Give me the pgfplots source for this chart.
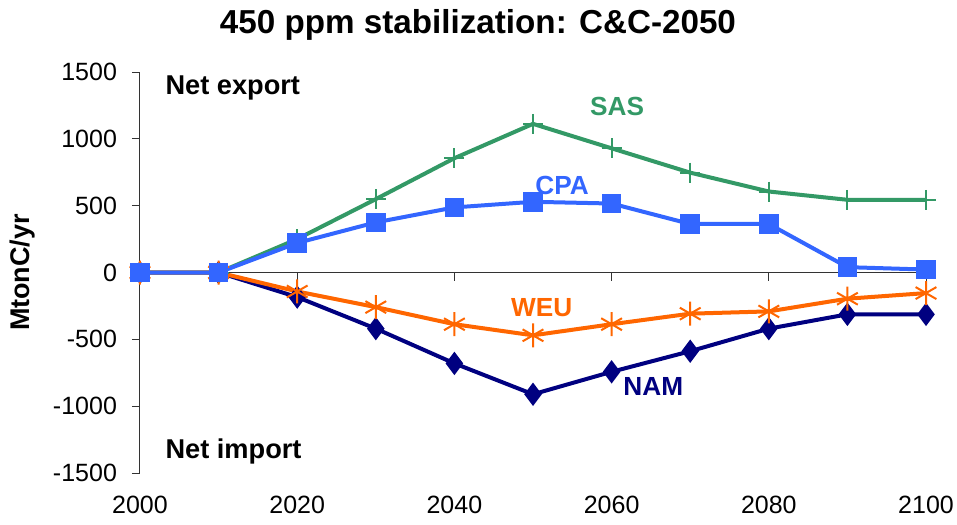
\documentclass[border=0pt]{standalone}
\usepackage{fontspec}
\setmainfont{Liberation Sans}
\usepackage{pgfplots}
\pgfplotsset{compat=1.18}

\definecolor{sasgreen}{RGB}{51,153,102}
\definecolor{cpablue}{RGB}{51,102,255}
\definecolor{weuorange}{RGB}{255,102,0}
\definecolor{namnavy}{RGB}{0,0,128}

\begin{document}
\begin{tikzpicture}
\begin{axis}[
    scale only axis,
    width=393pt,
    height=200.5pt,
    xmin=2000, xmax=2100,
    ymin=-1500, ymax=1500,
    xtick={2000,2020,...,2100},
    ytick={-1500,-1000,...,1500},
    axis x line*=middle,
    axis y line*=left,
    hide obscured x ticks=false,
    axis line style={black!80, line width=0.5pt, -},
    major tick style={black!80, line width=0.5pt},
    tick align=outside,
    major tick length=4pt,
    xticklabel style={yshift=-104pt},
    yticklabel style={xshift=-4pt},
    /pgf/number format/assume math mode=true,
    /pgf/number format/1000 sep={},
    tick label style={font=\fontsize{12.5}{14}\selectfont},
    ylabel={\bfseries MtonC/yr},
    every axis y label/.style={at={(axis description cs:-0.150,0.5)}, anchor=center, rotate=90,
        font=\fontsize{13.5}{16}\selectfont},
    title={\bfseries 450 ppm stabilization: C\&C-2050},
    every axis title/.style={at={(axis description cs:0.43,1)}, anchor=base, yshift=19.5pt,
        font=\fontsize{16.6}{19}\selectfont},
    clip=false,
    every axis plot/.append style={line width=2pt},
]
\addplot[namnavy, mark=diamond*, mark size=4.2pt] coordinates {
    (2000,0) (2010,0) (2020,-184) (2030,-420) (2040,-680) (2050,-911)
    (2060,-743) (2070,-589) (2080,-420) (2090,-313) (2100,-313)
};
\addplot[sasgreen, mark=+, mark size=5pt, mark options={line width=1pt}] coordinates {
    (2000,0) (2010,0) (2020,250) (2030,549) (2040,855) (2050,1112)
    (2060,929) (2070,747) (2080,606) (2090,544) (2100,544)
};
\addplot[weuorange, mark=asterisk, mark size=6pt, mark options={line width=1pt}] coordinates {
    (2000,0) (2010,0) (2020,-142) (2030,-259) (2040,-387) (2050,-470)
    (2060,-387) (2070,-308) (2080,-291) (2090,-196) (2100,-154)
};
\addplot[cpablue, mark=square*, mark size=3.9pt] coordinates {
    (2000,0) (2010,0) (2020,221) (2030,375) (2040,487) (2050,529)
    (2060,516) (2070,363) (2080,363) (2090,40) (2100,22)
};

\node[font=\fontsize{13.6}{16}\selectfont\bfseries, anchor=base west, inner sep=0pt] at (axis cs:2003.2,1334) {Net export};
\node[font=\fontsize{13.6}{16}\selectfont\bfseries, anchor=base west, inner sep=0pt] at (axis cs:2003.2,-1394) {Net import};
\node[font=\fontsize{13.1}{15}\selectfont\bfseries, text=sasgreen] at (axis cs:2060.7,1244) {SAS};
\node[font=\fontsize{13.1}{15}\selectfont\bfseries, text=cpablue] at (axis cs:2053.7,652) {CPA};
\node[font=\fontsize{13.1}{15}\selectfont\bfseries, text=weuorange] at (axis cs:2051.1,-261) {WEU};
\node[font=\fontsize{13.1}{15}\selectfont\bfseries, text=namnavy] at (axis cs:2065.3,-850) {NAM};
\end{axis}
\pgfresetboundingbox
\path[use as bounding box] ([shift={(-70pt,-25.5pt)}]current axis.south west)
    rectangle ([shift={(15.5pt,36pt)}]current axis.north east);
\end{tikzpicture}
\end{document}
